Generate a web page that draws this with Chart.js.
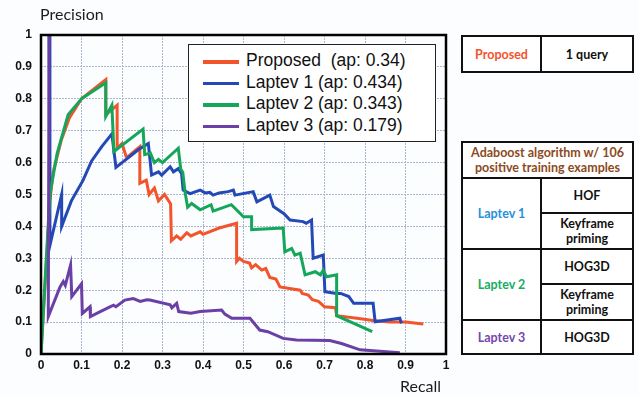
<!DOCTYPE html>
<html>
<head>
<meta charset="utf-8">
<script src="https://cdn.jsdelivr.net/npm/chart.js@4.4.1/dist/chart.umd.min.js"></script>
<style>
  body { margin: 0; background: #fcfdfe; }
  #wrap { position: relative; width: 639px; height: 396px; overflow: hidden; }
  #chart { position: absolute; left: 0; top: 0; }
  .axis-title { position: absolute; font-family: Lato, sans-serif; font-size: 16px; color: #1d1d1d; }
  #legend {
    position: absolute; left: 188px; top: 44px; width: 246px; height: 91px;
    border: 1.5px solid #222; background: #fff; font-family: "Liberation Sans", Arial, sans-serif;
    font-size: 17.5px; color: #111; padding-top: 5px; box-sizing: content-box;
  }
  #legend .row { height: 21.5px; line-height: 21.5px; white-space: pre; position: relative; padding-left: 57px; }
  #legend .swatch { position: absolute; left: 14px; top: 10px; width: 36px; height: 3.5px; }
  table { position: absolute; border-collapse: collapse; font-family: Lato, sans-serif; font-weight: bold; font-size: 12.5px; color: #111; text-align: center; background: #fff; }
  td { border: 2px solid #111; padding: 0; line-height: 15px; }
</style>
</head>
<body>
<div id="wrap">
  <canvas id="chart" width="639" height="396"></canvas>
  <div class="axis-title" style="left:40px; top:4px;">Precision</div>
  <div class="axis-title" style="left:400px; top:376px;">Recall</div>
  <div id="legend"></div>

  <table style="left:461px; top:35px; width:173px;">
    <tr style="height:36px;">
      <td style="width:77px; color:#f2542c;">Proposed</td>
      <td>1 query</td>
    </tr>
  </table>

  <table style="left:461px; top:141px; width:173px;">
    <tr style="height:36px;"><td colspan="2" style="color:#8c4a22;">Adaboost algorithm w/ 106<br>positive training examples</td></tr>
    <tr style="height:35px;"><td rowspan="2" style="width:77px; color:#2590dc;">Laptev 1</td><td>HOF</td></tr>
    <tr style="height:36px;"><td>Keyframe<br>priming</td></tr>
    <tr style="height:35px;"><td rowspan="2" style="color:#16ad62;">Laptev 2</td><td>HOG3D</td></tr>
    <tr style="height:36px;"><td>Keyframe<br>priming</td></tr>
    <tr style="height:34px;"><td style="color:#7448ae;">Laptev 3</td><td>HOG3D</td></tr>
  </table>
</div>

<script>
const xTickLabels = ["0", "0.1", "0.2", "0.3", "0.4", "0.5", "0.6", "0.7", "0.8", "0.9", "1"];
const yTickLabels = ["0", "0.1", "0.2", "0.3", "0.4", "0.5", "0.6", "0.7", "0.8", "0.9", "1"];

const seriesNames = ["Proposed  (ap: 0.34)", "Laptev 1 (ap: 0.434)", "Laptev 2 (ap: 0.343)", "Laptev 3 (ap: 0.179)"];
const seriesColors = ["#f2542c", "#2448b6", "#14a65a", "#6a3fa6"];

const proposedRecall = [0, 0.022, 0.03, 0.05, 0.07, 0.1, 0.13, 0.16, 0.16, 0.188, 0.188, 0.2, 0.21, 0.216, 0.244, 0.244, 0.26, 0.267, 0.28, 0.29, 0.305, 0.32, 0.322, 0.335, 0.345, 0.36, 0.37, 0.393, 0.4, 0.44, 0.483, 0.483, 0.49, 0.5, 0.515, 0.52, 0.53, 0.545, 0.555, 0.565, 0.58, 0.59, 0.64, 0.645, 0.66, 0.67, 0.685, 0.7, 0.727, 0.73, 0.78, 0.82, 0.86, 0.9, 0.944];
const proposedPrecision = [0, 0.48, 0.57, 0.67, 0.74, 0.8, 0.83, 0.86, 0.75, 0.78, 0.645, 0.66, 0.62, 0.62, 0.65, 0.535, 0.545, 0.5, 0.52, 0.48, 0.5, 0.47, 0.355, 0.37, 0.36, 0.38, 0.37, 0.383, 0.375, 0.395, 0.41, 0.29, 0.3, 0.29, 0.285, 0.27, 0.28, 0.263, 0.268, 0.24, 0.235, 0.21, 0.2, 0.19, 0.185, 0.17, 0.165, 0.148, 0.145, 0.12, 0.112, 0.105, 0.1, 0.1, 0.094];

const laptev1Recall = [0.02, 0.022, 0.051, 0.051, 0.075, 0.104, 0.125, 0.15, 0.175, 0.185, 0.2, 0.22, 0.24, 0.265, 0.273, 0.29, 0.298, 0.319, 0.327, 0.339, 0.347, 0.351, 0.368, 0.393, 0.405, 0.417, 0.425, 0.44, 0.462, 0.475, 0.479, 0.524, 0.533, 0.565, 0.574, 0.6, 0.615, 0.647, 0.655, 0.668, 0.672, 0.697, 0.701, 0.73, 0.74, 0.76, 0.772, 0.82, 0.825, 0.886, 0.89];
const laptev1Precision = [1.0, 0.34, 0.5, 0.4, 0.48, 0.545, 0.605, 0.65, 0.69, 0.585, 0.6, 0.62, 0.64, 0.66, 0.561, 0.571, 0.561, 0.587, 0.571, 0.581, 0.566, 0.514, 0.503, 0.514, 0.505, 0.507, 0.498, 0.505, 0.509, 0.514, 0.498, 0.509, 0.477, 0.498, 0.462, 0.44, 0.42, 0.415, 0.41, 0.42, 0.3, 0.31, 0.195, 0.19, 0.19, 0.18, 0.159, 0.159, 0.101, 0.112, 0.096];

const laptev2Recall = [0, 0.022, 0.04, 0.067, 0.1, 0.13, 0.16, 0.16, 0.175, 0.18, 0.252, 0.256, 0.27, 0.28, 0.29, 0.3, 0.339, 0.345, 0.35, 0.356, 0.362, 0.372, 0.393, 0.42, 0.425, 0.47, 0.5, 0.52, 0.52, 0.598, 0.602, 0.619, 0.627, 0.64, 0.652, 0.677, 0.69, 0.697, 0.705, 0.73, 0.73, 0.818];
const laptev2Precision = [0, 0.5, 0.63, 0.75, 0.8, 0.825, 0.85, 0.745, 0.78, 0.635, 0.705, 0.625, 0.63, 0.6, 0.61, 0.6, 0.645, 0.58, 0.57, 0.505, 0.46, 0.472, 0.452, 0.468, 0.448, 0.468, 0.43, 0.43, 0.39, 0.395, 0.32, 0.331, 0.31, 0.316, 0.248, 0.258, 0.248, 0.263, 0.242, 0.248, 0.12, 0.07];

const laptev3Recall = [0.02, 0.018, 0.047, 0.055, 0.06, 0.073, 0.076, 0.1, 0.102, 0.121, 0.122, 0.15, 0.179, 0.185, 0.207, 0.228, 0.245, 0.261, 0.269, 0.319, 0.323, 0.335, 0.34, 0.37, 0.393, 0.446, 0.454, 0.471, 0.516, 0.54, 0.56, 0.598, 0.631, 0.713, 0.742, 0.788, 0.886];
const laptev3Precision = [1.0, 0.117, 0.21, 0.227, 0.215, 0.279, 0.18, 0.22, 0.127, 0.148, 0.117, 0.135, 0.153, 0.148, 0.169, 0.174, 0.165, 0.17, 0.169, 0.154, 0.145, 0.159, 0.133, 0.128, 0.133, 0.138, 0.125, 0.112, 0.112, 0.075, 0.07, 0.049, 0.044, 0.042, 0.033, 0.013, 0.004];

function toPoints(recall, precision) {
  return recall.map((r, i) => ({ x: r, y: precision[i] }));
}

const seriesData = [
  toPoints(proposedRecall, proposedPrecision),
  toPoints(laptev1Recall, laptev1Precision),
  toPoints(laptev2Recall, laptev2Precision),
  toPoints(laptev3Recall, laptev3Precision),
];

// legend box drawn as html over the plot
const legendEl = document.getElementById("legend");
seriesNames.forEach((name, i) => {
  const row = document.createElement("div");
  row.className = "row";
  row.textContent = name;
  const sw = document.createElement("span");
  sw.className = "swatch";
  sw.style.background = seriesColors[i];
  row.appendChild(sw);
  legendEl.appendChild(row);
});

const framePlugin = {
  id: "frame",
  afterDraw(chart) {
    const { ctx, chartArea } = chart;
    ctx.save();
    ctx.strokeStyle = "#000";
    ctx.lineWidth = 2.5;
    ctx.strokeRect(chartArea.left, chartArea.top, chartArea.right - chartArea.left, chartArea.bottom - chartArea.top);
    ctx.restore();
  },
};

const tickFont = { family: "'Liberation Sans', Arial, sans-serif", weight: "bold", size: 12 };

new Chart(document.getElementById("chart"), {
  type: "line",
  data: {
    datasets: seriesData.map((data, i) => ({
      label: seriesNames[i],
      data,
      borderColor: seriesColors[i],
      borderWidth: 3,
      pointRadius: 0,
      tension: 0,
      fill: false,
      order: 4 - i,
    })),
  },
  options: {
    responsive: false,
    animation: false,
    layout: { padding: { left: 0, top: 35, right: 193, bottom: 0 } },
    plugins: {
      legend: { display: false },
      tooltip: { enabled: false },
    },
    scales: {
      x: {
        type: "linear",
        min: 0,
        max: 1,
        ticks: {
          stepSize: 0.1,
          autoSkip: false,
          maxRotation: 0,
          padding: 4,
          color: "#111",
          font: tickFont,
          callback: (value, index) => xTickLabels[index],
        },
        grid: { color: "#aab7cd", lineWidth: 1, drawTicks: false },
        border: { display: false, dash: [2, 1] },
        afterFit(scale) { scale.height = 42; },
      },
      y: {
        type: "linear",
        min: 0,
        max: 1,
        ticks: {
          stepSize: 0.1,
          autoSkip: false,
          padding: 9,
          color: "#111",
          font: tickFont,
          callback: (value, index) => yTickLabels[index],
        },
        grid: { color: "#aab7cd", lineWidth: 1, drawTicks: false },
        border: { display: false, dash: [2, 1] },
        afterFit(scale) { scale.width = 41; },
      },
    },
  },
  plugins: [framePlugin],
});
</script>
</body>
</html>
